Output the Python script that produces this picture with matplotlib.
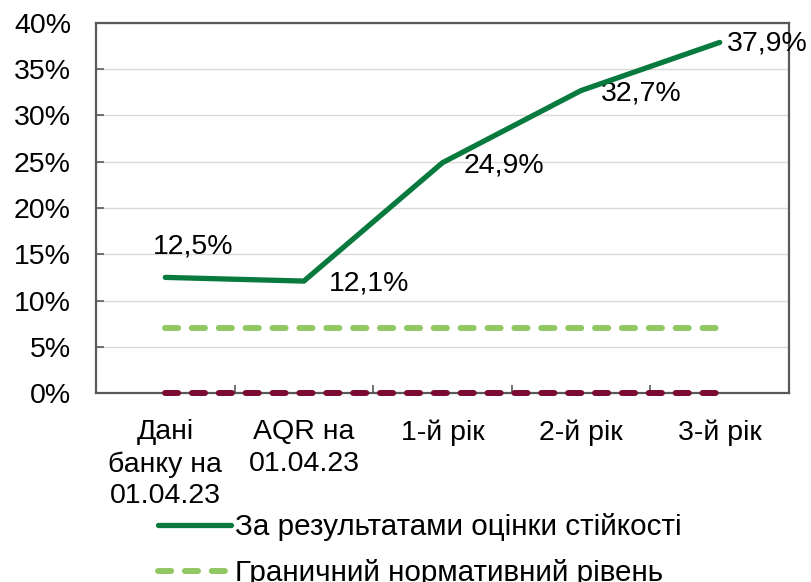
import matplotlib
matplotlib.use("Agg")
import matplotlib.pyplot as plt
from matplotlib.ticker import FixedLocator, FuncFormatter
from matplotlib.lines import Line2D

plt.rcParams['font.family'] = ['Liberation Sans', 'DejaVu Sans']

categories = ["Дані\nбанку на\n01.04.23", "AQR на\n01.04.23", "1-й рік", "2-й рік", "3-й рік"]
stress = [12.5, 12.1, 24.9, 32.7, 37.9]
threshold = [7, 7, 7, 7, 7]
zero_level = [0, 0, 0, 0, 0]
value_labels = ["12,5%", "12,1%", "24,9%", "32,7%", "37,9%"]
legend_labels = ["За результатами оцінки стійкості", "Граничний нормативний рівень"]

dark_green = "#087A3E"
light_green = "#92C864"
maroon = "#7A0A33"
spine_col = "#595959"
grid_col = "#D9D9D9"
fs = 20.5

fig = plt.figure(figsize=(8.12, 5.82), dpi=100)
ax = fig.add_axes([0.1182, 0.3247, 0.9717 - 0.1182, 0.9605 - 0.3247])

x = list(range(len(categories)))
ax.plot(x, zero_level, color=maroon, lw=4.3, dashes=(2.2, 2.3), dash_capstyle='round', zorder=3, clip_on=False)
ax.plot(x, threshold, color=light_green, lw=4.3, dashes=(2.2, 2.3), dash_capstyle='round', zorder=3)
ax.plot(x, stress, color=dark_green, lw=3.8, solid_capstyle='round', zorder=4)

ax.set_xlim(-0.5, len(categories) - 0.5)
ax.set_ylim(0, 40)

# data labels (offsets in points)
label_offsets = [(20, 22), (18, -2), (15, -2), (14, -2), (5, -1)]
label_ha = ['center', 'left', 'left', 'left', 'left']
for i in range(len(x)):
    ax.annotate(value_labels[i], (x[i], stress[i]), xytext=label_offsets[i], textcoords='offset points',
                ha=label_ha[i], va='center', fontsize=fs, annotation_clip=False)

ax.yaxis.set_major_locator(FixedLocator([0, 5, 10, 15, 20, 25, 30, 35, 40]))
ax.yaxis.set_major_formatter(FuncFormatter(lambda v, p: f"{int(v)}%"))
ax.set_xticks(x)
ax.set_xticklabels(categories, fontsize=fs, linespacing=1.28)
ax.set_xticks([i + 0.5 for i in range(len(categories) - 1)], minor=True)

ax.tick_params(axis='y', direction='in', length=6, width=1.2, color=spine_col, labelsize=fs, pad=18)
ax.tick_params(axis='x', which='major', length=0, pad=19, labelsize=fs)
ax.tick_params(axis='x', which='minor', direction='in', length=6, width=1.2, color=spine_col)

ax.grid(axis='y', color=grid_col, lw=1.0, zorder=0)
ax.set_axisbelow(True)
for s in ax.spines.values():
    s.set_color(spine_col)
    s.set_linewidth(1.6)

handles = [Line2D([], [], color=dark_green, lw=3.8, solid_capstyle='round'),
           Line2D([], [], color=light_green, lw=4.3, dashes=(2.2, 2.3), dash_capstyle='round')]
fig.legend(handles, legend_labels, loc='upper left', bbox_to_anchor=(0.195, 0.118),
           frameon=False, fontsize=21.3, handlelength=2.45, handletextpad=0.15,
           labelspacing=0.6, borderaxespad=0, borderpad=0)

fig.savefig("out.png", dpi=100)
